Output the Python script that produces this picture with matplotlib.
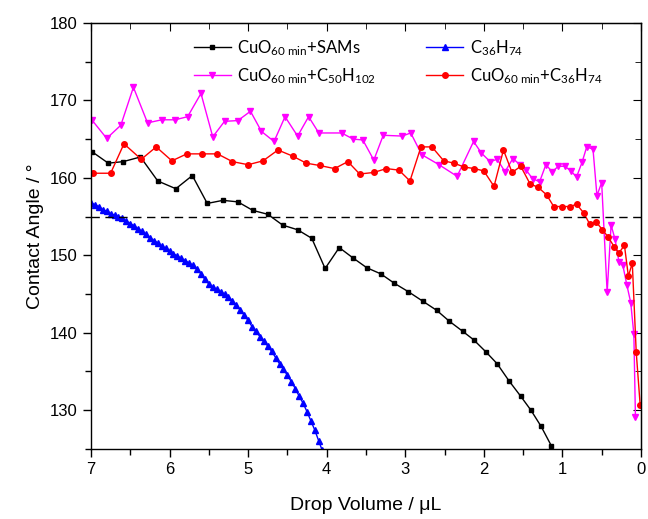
import matplotlib
matplotlib.use('Agg')
import matplotlib.pyplot as plt
from matplotlib.ticker import MultipleLocator

plt.rcParams['font.family'] = ['Liberation Sans', 'DejaVu Sans']
plt.rcParams['mathtext.fontset'] = 'custom'
plt.rcParams['mathtext.rm'] = 'Lato'
plt.rcParams['mathtext.it'] = 'Lato:italic'

# CuO 60 min + SAMs (black squares)
sams_x = [6.99, 6.78, 6.59, 6.37, 6.15, 5.92, 5.71, 5.52, 5.32, 5.13, 4.94, 4.75,
          4.56, 4.37, 4.19, 4.02, 3.84, 3.67, 3.49, 3.31, 3.14, 2.96, 2.78, 2.60,
          2.44, 2.27, 2.13, 1.97, 1.83, 1.68, 1.53, 1.40, 1.27, 1.14]
sams_y = [163.4, 161.9, 162.1, 162.7, 159.6, 158.6, 160.3, 156.7, 157.1, 156.9, 155.8, 155.3,
          153.9, 153.3, 152.2, 148.3, 151.0, 149.7, 148.4, 147.6, 146.4, 145.3, 144.1, 142.9,
          141.5, 140.2, 139.1, 137.5, 136.0, 133.8, 131.8, 130.0, 127.9, 125.4]

# C36H74 (blue triangles)
c36_x = [7.00, 6.95, 6.90, 6.85, 6.80, 6.75, 6.70, 6.65, 6.60, 6.55, 6.50, 6.45,
         6.40, 6.35, 6.30, 6.25, 6.20, 6.15, 6.10, 6.05, 6.00, 5.95, 5.90, 5.85,
         5.80, 5.75, 5.70, 5.65, 5.60, 5.55, 5.50, 5.45, 5.40, 5.35, 5.30, 5.25,
         5.20, 5.15, 5.10, 5.05, 5.00, 4.95, 4.90, 4.85, 4.80, 4.75, 4.70, 4.65,
         4.60, 4.55, 4.50, 4.45, 4.40, 4.35, 4.30, 4.25, 4.20, 4.15, 4.10, 4.06]
c36_y = [156.8, 156.5, 156.3, 155.9, 155.7, 155.4, 155.2, 155.0, 154.8, 154.4, 154.1, 153.8,
         153.4, 153.1, 152.7, 152.3, 151.9, 151.6, 151.2, 150.9, 150.5, 150.2, 149.9, 149.6,
         149.3, 149.0, 148.7, 148.2, 147.6, 146.9, 146.3, 145.9, 145.6, 145.3, 145.0, 144.6,
         144.1, 143.6, 142.9, 142.3, 141.6, 140.8, 140.2, 139.5, 138.9, 138.3, 137.6, 136.8,
         136.0, 135.3, 134.5, 133.7, 132.8, 131.8, 130.9, 129.8, 128.6, 127.4, 126.0, 124.9]

# CuO 60 min + C50H102 (magenta down triangles)
c50_x = [6.99, 6.80, 6.62, 6.46, 6.28, 6.10, 5.93, 5.77, 5.60, 5.45, 5.30, 5.13,
         4.97, 4.83, 4.67, 4.53, 4.37, 4.23, 4.10, 3.81, 3.66, 3.54, 3.40, 3.28,
         3.04, 2.93, 2.79, 2.57, 2.34, 2.13, 2.03, 1.92, 1.83, 1.73, 1.63, 1.54,
         1.46, 1.38, 1.29, 1.21, 1.13, 1.05, 0.97, 0.89, 0.82, 0.75, 0.69, 0.61,
         0.56, 0.50, 0.43, 0.38, 0.33, 0.28, 0.23, 0.18, 0.13, 0.09, 0.07]
c50_y = [167.5, 165.1, 166.8, 171.7, 167.1, 167.5, 167.5, 167.9, 170.9, 165.3, 167.3, 167.4,
         168.6, 166.0, 164.7, 167.9, 165.4, 167.9, 165.8, 165.8, 165.0, 164.9, 162.3, 165.5,
         165.4, 165.8, 163.0, 161.7, 160.2, 164.7, 163.2, 162.1, 162.4, 160.8, 162.5, 161.7,
         161.0, 159.9, 159.5, 161.7, 160.8, 161.5, 161.5, 160.9, 160.1, 162.0, 164.0, 163.7,
         157.7, 159.4, 145.2, 153.9, 152.1, 149.2, 148.7, 146.2, 143.9, 139.8, 129.1]

# CuO 60 min + C36H74 (red circles)
cuo36_x = [6.97, 6.75, 6.58, 6.36, 6.17, 5.97, 5.78, 5.59, 5.39, 5.20, 5.00, 4.81,
           4.62, 4.43, 4.26, 4.09, 3.90, 3.73, 3.58, 3.40, 3.24, 3.08, 2.94, 2.80,
           2.66, 2.51, 2.38, 2.25, 2.12, 2.00, 1.87, 1.75, 1.64, 1.53, 1.41, 1.31,
           1.20, 1.11, 1.00, 0.90, 0.82, 0.73, 0.65, 0.57, 0.49, 0.42, 0.34, 0.28,
           0.21, 0.16, 0.11, 0.06, 0.01]
cuo36_y = [160.6, 160.6, 164.4, 162.4, 164.0, 162.2, 163.1, 163.1, 163.1, 162.1, 161.7, 162.2,
           163.6, 162.8, 161.9, 161.6, 161.2, 162.1, 160.5, 160.7, 161.2, 161.0, 159.6, 164.0,
           164.0, 162.2, 161.9, 161.4, 161.2, 160.9, 158.9, 163.6, 160.7, 161.5, 159.2, 158.8,
           157.8, 156.3, 156.3, 156.3, 156.6, 155.5, 154.0, 154.3, 153.3, 152.4, 151.1, 150.3,
           151.3, 147.3, 149.0, 137.5, 130.7]

threshold = 155

fig = plt.figure(figsize=(6.48, 5.19), dpi=100)
ax = fig.add_axes([0.1404, 0.135, 0.8487, 0.8207])

l_sams, = ax.plot(sams_x, sams_y, color='black', lw=1.0, marker='s', ms=3.5,
                  label=r'CuO$_{\mathrm{60\ min}}$+SAMs')
l_c36, = ax.plot(c36_x, c36_y, color='#0000ff', lw=1.0, marker='^', ms=5,
                 label=r'C$_{\mathrm{36}}$H$_{\mathrm{74}}$')
l_c50, = ax.plot(c50_x, c50_y, color='#ff00ff', lw=1.0, marker='v', ms=5,
                 label=r'CuO$_{\mathrm{60\ min}}$+C$_{\mathrm{50}}$H$_{\mathrm{102}}$')
l_cuo36, = ax.plot(cuo36_x, cuo36_y, color='#ff0000', lw=1.0, marker='o', ms=4,
                   label=r'CuO$_{\mathrm{60\ min}}$+C$_{\mathrm{36}}$H$_{\mathrm{74}}$')
ax.axhline(threshold, color='black', lw=1.0, ls=(0, (6, 4)))

ax.set_xlim(7, 0)
ax.set_ylim(125, 180)
ax.xaxis.set_major_locator(MultipleLocator(1))
ax.xaxis.set_minor_locator(MultipleLocator(0.5))
ax.yaxis.set_major_locator(MultipleLocator(10))
ax.yaxis.set_minor_locator(MultipleLocator(5))
ax.tick_params(which='both', direction='out', labelsize=12, width=1.0)
ax.tick_params(which='major', length=6)
ax.tick_params(which='minor', length=4)
for sp in ax.spines.values():
    sp.set_linewidth(1.0)

# inward ticks on the top and right spines
top = ax.secondary_xaxis('top')
top.set_xticks([7, 6, 5, 4, 3, 2, 1, 0])
top.xaxis.set_minor_locator(MultipleLocator(0.5))
top.tick_params(which='both', direction='in', labeltop=False)
top.tick_params(which='major', length=6)
top.tick_params(which='minor', length=4)
right = ax.secondary_yaxis('right')
right.yaxis.set_major_locator(MultipleLocator(10))
right.yaxis.set_minor_locator(MultipleLocator(5))
right.tick_params(which='both', direction='in', labelright=False)
right.tick_params(which='major', length=6)
right.tick_params(which='minor', length=4)

ax.set_xlabel('Drop Volume / μL', fontsize=14, labelpad=14)
ax.set_ylabel('Contact Angle / °', fontsize=14, labelpad=4)

# column-wise fill: SAMs / C50H102 in the left column, C36H74 / CuO+C36H74 on the right
ax.legend(handles=[l_sams, l_c50, l_c36, l_cuo36],
          loc='upper left', bbox_to_anchor=(0.16, 1.0), ncol=2, frameon=False,
          prop={'family': 'Lato', 'size': 12}, handlelength=2.2, columnspacing=3.0,
          labelspacing=0.5, handletextpad=0.4)

fig.savefig('out.png', dpi=100, facecolor='white')
